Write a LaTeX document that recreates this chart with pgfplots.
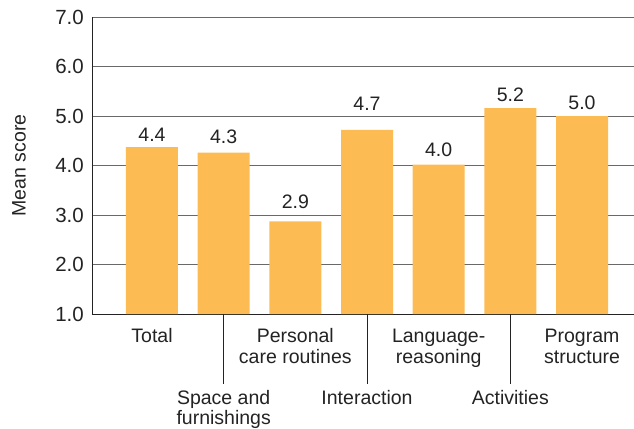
\documentclass[border=0pt]{standalone}
\usepackage{fontspec}
\setmainfont{Liberation Sans}
\usepackage{pgfplots}
\pgfplotsset{compat=1.18}
\definecolor{barorange}{RGB}{253,187,84}
\definecolor{txt}{RGB}{35,35,35}
\definecolor{gridgray}{RGB}{105,105,105}
\newcommand\lf{\fontsize{19.5bp}{21bp}\selectfont}
\newcommand\tf{\fontsize{20.5bp}{22bp}\selectfont}

\begin{document}
\begin{tikzpicture}
\useasboundingbox (-92bp,-115bp) rectangle (542bp,314bp);
\begin{axis}[
  at={(0,0)}, anchor=south west, scale only axis,
  width=542bp, height=297bp,
  xmin=-0.837, xmax=6.725, ymin=1, ymax=7,
  axis x line*=bottom, axis y line*=left,
  axis line style={-, draw=txt, line width=1pt},
  ytick={1,2,...,7}, xtick=\empty,
  major tick length=0pt,
  ymajorgrids, grid style={gridgray, line width=0.9pt},
  y tick label style={/pgf/number format/fixed, /pgf/number format/fixed zerofill, /pgf/number format/precision=1},
  yticklabel style={font=\tf, text=txt, inner sep=0pt, xshift=-8bp},
  /pgf/number format/assume math mode=true,
  ylabel={Mean score},
  ylabel style={at={(axis description cs:-0.1347,0.5)}, anchor=center, font=\lf, text=txt},
  clip mode=individual,
  ybar, bar width=52bp,
  nodes near coords, point meta=explicit symbolic,
  visualization depends on={\thisrow{off} \as \labeloff},
  every node near coord/.append style={font=\lf, text=txt, inner sep=0pt, yshift=\labeloff bp},
]
\addplot[fill=barorange, draw=none] table[x=x, y=y, meta=lab] {
x y lab off
0 4.37 4.4 5
1 4.26 4.3 9
2 2.87 2.9 13
3 4.72 4.7 19
4 4.02 4.0 8
5 5.16 5.2 6
6 5.00 5.0 6
};
% separator lines
\draw[txt, line width=0.9pt] (axis cs:1,1) -- ([yshift=-70bp]axis cs:1,1);
\draw[txt, line width=0.9pt] (axis cs:3,1) -- ([yshift=-70bp]axis cs:3,1);
\draw[txt, line width=0.9pt] (axis cs:5,1) -- ([yshift=-70bp]axis cs:5,1);
% upper row labels
\node[anchor=base, font=\lf, text=txt, inner sep=0pt, yshift=-28bp] at (axis cs:0,1) {Total};
\node[anchor=base, font=\lf, text=txt, inner sep=0pt, yshift=-28bp] at (axis cs:2,1) {Personal};
\node[anchor=base, font=\lf, text=txt, inner sep=0pt, yshift=-49.5bp] at (axis cs:2,1) {care routines};
\node[anchor=base, font=\lf, text=txt, inner sep=0pt, yshift=-28bp] at (axis cs:4,1) {Language-};
\node[anchor=base, font=\lf, text=txt, inner sep=0pt, yshift=-49.5bp] at (axis cs:4,1) {reasoning};
\node[anchor=base, font=\lf, text=txt, inner sep=0pt, yshift=-28bp] at (axis cs:6,1) {Program};
\node[anchor=base, font=\lf, text=txt, inner sep=0pt, yshift=-49.5bp] at (axis cs:6,1) {structure};
% lower row labels
\node[anchor=base, font=\lf, text=txt, inner sep=0pt, yshift=-90bp] at (axis cs:1,1) {Space and};
\node[anchor=base, font=\lf, text=txt, inner sep=0pt, yshift=-110.5bp] at (axis cs:1,1) {furnishings};
\node[anchor=base, font=\lf, text=txt, inner sep=0pt, yshift=-90bp] at (axis cs:3,1) {Interaction};
\node[anchor=base, font=\lf, text=txt, inner sep=0pt, yshift=-90bp] at (axis cs:5,1) {Activities};
\end{axis}
\end{tikzpicture}
\end{document}
